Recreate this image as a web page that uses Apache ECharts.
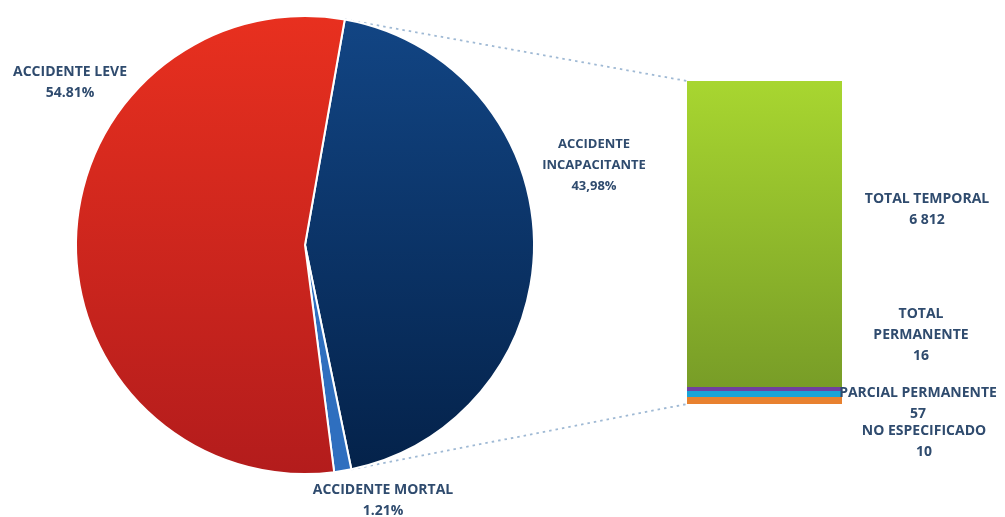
<!DOCTYPE html>
<html>
<head>
<meta charset="utf-8">
<script src="https://cdn.jsdelivr.net/npm/echarts@6/dist/echarts.min.js"></script>
<style>
  html, body { margin: 0; padding: 0; background: #fff; }
  #chart { width: 1005px; height: 517px; }
</style>
</head>
<body>
<div id="chart"></div>
<script>
// Accidents by type (share of total, %)
const accidentNames = ['ACCIDENTE\nINCAPACITANTE', 'ACCIDENTE MORTAL', 'ACCIDENTE LEVE'];
const accidentShares = [43.98, 1.21, 54.81];
const shareDecimalMarks = [',', '.', '.'];

// Disabling accidents by type of disability (cases), bottom to top of the column
const disabilityNames = ['NO ESPECIFICADO', 'PARCIAL PERMANENTE', 'TOTAL\nPERMANENTE', 'TOTAL TEMPORAL'];
const disabilityCases = [10, 57, 16, 6812];

// ---- styling / layout ----
const textColor = '#2f4b6e';
const labelFont = { fontFamily: 'Open Sans', fontWeight: 'bold', fontSize: 14, lineHeight: 21, color: textColor };

const pieCenter = [305, 245];
const pieRadius = 229;
const pieStart = 80;               // degrees, counter-clockwise from 3 o'clock

const sliceColors = [
  { type: 'linear', x: 0, y: 0, x2: 0, y2: 1, colorStops: [{ offset: 0, color: '#124584' }, { offset: 1, color: '#04224a' }] },
  '#2f6fbf',
  { type: 'linear', x: 0, y: 0, x2: 0, y2: 1, colorStops: [{ offset: 0, color: '#e8301f' }, { offset: 1, color: '#b31c1c' }] }
];
const pieLabelSpots = [[594, 134], [383, 480], [70, 62]];
const pieLabelSizes = [13, 14, 14];

const segmentColors = [
  '#e8812f', '#1ba3d6', '#7041a0',
  { type: 'linear', x: 0, y: 0, x2: 0, y2: 1, colorStops: [{ offset: 0, color: '#a8d630' }, { offset: 1, color: '#789d27' }] }
];
// thin parts of the column are drawn at least this tall (px) so they stay visible
const segmentMinHeights = [7, 6, 4, 0];
const segmentLabelSpots = [[924, 421], [918, 383], [921, 304], [927, 189]];

const barLeft = 687, barWidth = 155, barTop = 81, barBottom = 404;
const totalCases = disabilityCases.reduce((a, b) => a + b, 0);
const largest = disabilityCases[disabilityCases.length - 1];
const reserved = segmentMinHeights.reduce((a, b) => a + b, 0);
// scale so the stacked column (with the minimum heights) spans barTop..barBottom
const gridHeight = (barBottom - barTop - reserved) * totalCases / largest;

function formatShare(v, i) {
  return v.toFixed(2).replace('.', shareDecimalMarks[i]) + '%';
}
function formatCases(v) {
  return String(v).replace(/\B(?=(\d{3})+(?!\d))/g, ' ');
}

// stacked column: each part's pixel height comes from the value axis, with a floor
function segmentExtent(api, upto) {
  const base = api.coord([0, 0]);
  let y = base[1];
  let h = 0;
  for (let j = 0; j <= upto; j++) {
    h = Math.max(api.size([0, api.value(1, j)])[1], segmentMinHeights[j]);
    if (j < upto) y -= h;
  }
  return { x: base[0], yBottom: y, h: h };
}

const chart = echarts.init(document.getElementById('chart'), null, { renderer: 'canvas' });

chart.setOption({
  backgroundColor: '#ffffff',
  animation: false,
  grid: {
    left: barLeft, width: barWidth,
    top: barBottom - gridHeight, height: gridHeight
  },
  xAxis: { type: 'category', data: [''], show: false, boundaryGap: true },
  yAxis: { type: 'value', min: 0, max: totalCases, show: false },
  series: [
    {
      type: 'pie',
      center: pieCenter,
      radius: pieRadius,
      startAngle: pieStart,
      clockwise: true,
      silent: true,
      itemStyle: { borderColor: '#ffffff', borderWidth: 2 },
      label: Object.assign({
        show: true,
        position: 'inside',
        formatter: (p) => p.name + '\n' + formatShare(p.value, p.dataIndex)
      }, labelFont),
      labelLine: { show: false },
      labelLayout: (p) => ({
        x: pieLabelSpots[p.dataIndex][0], y: pieLabelSpots[p.dataIndex][1],
        fontSize: pieLabelSizes[p.dataIndex],
        align: 'center', verticalAlign: 'top'
      }),
      data: accidentNames.map((n, i) => ({ name: n, value: accidentShares[i], itemStyle: { color: sliceColors[i] } }))
    },
    {
      type: 'custom',
      silent: true,
      encode: { x: 0, y: 1 },
      renderItem: (params, api) => {
        const i = params.dataIndex;
        const bandW = api.size([1, 0])[0];
        const seg = segmentExtent(api, i);
        const rx = seg.x - bandW / 2, ry = seg.yBottom - seg.h;
        return {
          type: 'rect',
          shape: { x: rx, y: ry, width: bandW, height: seg.h },
          style: { fill: segmentColors[i] },
          textContent: {
            style: Object.assign({
              text: disabilityNames[i] + '\n' + formatCases(api.value(1)),
              fill: textColor,
              align: 'center',
              verticalAlign: 'top'
            }, labelFont),
            z2: 10
          },
          textConfig: {
            position: [segmentLabelSpots[i][0] - rx, segmentLabelSpots[i][1] - ry],
            inside: false
          }
        };
      },
      data: disabilityNames.map((n, i) => ({ name: n, value: [0, disabilityCases[i]] }))
    }
  ]
});

// Dotted connectors from the disabling-accident slice to the breakdown column
(function drawConnectors() {
  const zero = chart.convertToPixel({ gridIndex: 0 }, [0, 0]);
  let colTop = zero[1];
  disabilityCases.forEach((v, j) => {
    const h = zero[1] - chart.convertToPixel({ gridIndex: 0 }, [0, v])[1];
    colTop -= Math.max(h, segmentMinHeights[j]);
  });
  const colBottom = zero[1];
  const colLeft = barLeft;

  const sliceSweep = accidentShares[0] / accidentShares.reduce((a, b) => a + b, 0) * 360;
  const a0 = pieStart * Math.PI / 180;
  const a1 = (pieStart - sliceSweep) * Math.PI / 180;
  const p0 = [pieCenter[0] + pieRadius * Math.cos(a0), pieCenter[1] - pieRadius * Math.sin(a0)];
  const p1 = [pieCenter[0] + pieRadius * Math.cos(a1), pieCenter[1] - pieRadius * Math.sin(a1)];

  const lineStyle = { stroke: '#9fb9d4', lineWidth: 1.8, lineDash: [2.5, 4] };
  chart.setOption({
    graphic: [
      { type: 'line', z: 1, silent: true, shape: { x1: p0[0], y1: p0[1], x2: colLeft, y2: colTop }, style: lineStyle },
      { type: 'line', z: 1, silent: true, shape: { x1: p1[0], y1: p1[1], x2: colLeft, y2: colBottom }, style: lineStyle }
    ]
  });
})();
</script>
</body>
</html>
